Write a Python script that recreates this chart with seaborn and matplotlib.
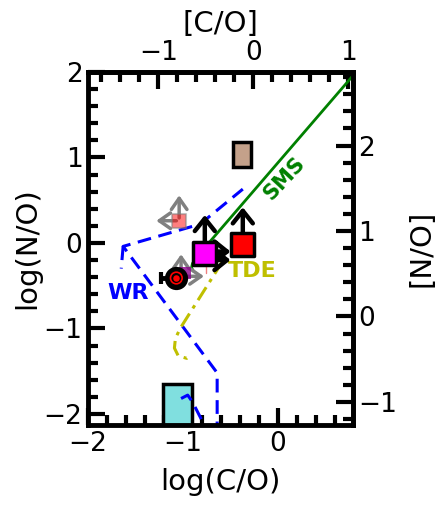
import matplotlib
matplotlib.use("Agg")
import matplotlib.pyplot as plt
from matplotlib.patches import Rectangle
from matplotlib.ticker import MultipleLocator
import pandas as pd
import seaborn as sns

# solar offsets used for the bracket axes
CO_SUN = -0.26
NO_SUN = -0.86

# model tracks: log(C/O), log(N/O)
sms_co = [-0.89, -0.91, -0.90, -0.86, 0.90]
sms_no = [-0.33, -0.29, -0.24, -0.17, 2.10]
wr_co = [-0.64, -0.64, -1.63, -0.82, -0.37]
wr_no = [-2.25, -1.52, -0.04, 0.22, 0.63]
wr_stub_co = [-1.63, -1.65]
wr_stub_no = [-0.04, -0.30]
wr2_co = [-1.02, -0.95, -0.90, -0.72]
wr2_no = [-1.82, -1.78, -1.86, -2.25]
tde_co = [-0.58, -1.03, -1.08, -1.09, -1.05, -0.96, -0.91]
tde_no = [-0.21, -1.00, -1.12, -1.23, -1.32, -1.35, -1.30]

# boxes: (x0, y0, width, height)
box_tan = (-0.47, 0.89, 0.19, 0.29)
box_cyan = (-1.21, -2.25, 0.31, 0.60)

# measurements
mag_co, mag_no = -0.77, -0.12
red_co, red_no = -0.37, -0.02
salmon_co, salmon_no = -1.04, 0.26
purple_co, purple_no = -1.02, -0.37
circ_co, circ_no = -1.07, -0.41
circ_xerr = 0.16

sns.set_style("white")
plt.rcParams['font.family'] = ['DejaVu Sans']
plt.rcParams.update({"text.color": "k", "axes.labelcolor": "k",
                     "xtick.color": "k", "ytick.color": "k"})

fig = plt.figure(figsize=(4.36, 5.13), dpi=100)
ax = fig.add_axes([0.2018, 0.1715, 0.6078, 0.6881])

kw = dict(sort=False, estimator=None, ax=ax)
sns.lineplot(x=sms_co, y=sms_no, color="green", lw=2, **kw)
sns.lineplot(x=wr_co, y=wr_no, color="blue", lw=2.2, **kw)
sns.lineplot(x=wr_stub_co, y=wr_stub_no, color="blue", lw=2.2, **kw)
sns.lineplot(x=wr2_co, y=wr2_no, color="blue", lw=2.2, **kw)
sns.lineplot(x=tde_co, y=tde_no, color="y", lw=2.2, **kw)
for ln in ax.lines[1:4]:
    ln.set_dashes([4.5, 2.5])
    ln.set_zorder(2)
ax.lines[4].set_dashes([5, 2, 1.2, 2])

ax.add_patch(Rectangle(box_tan[:2], box_tan[2], box_tan[3], fc="#c4a18a", ec="k", lw=2.5, zorder=3))
ax.add_patch(Rectangle(box_cyan[:2], box_cyan[2], box_cyan[3], fc="#80dfdf", ec="k", lw=2.5, zorder=1))

grey = dict(arrowstyle="->,head_length=0.5,head_width=0.35", color="grey", lw=2.5, mutation_scale=16)
black = dict(arrowstyle="->,head_length=0.5,head_width=0.4", color="k", lw=3.2, mutation_scale=18)

# salmon point with limits
ax.annotate("", xy=(salmon_co, salmon_no + 0.33), xytext=(salmon_co, salmon_no), arrowprops=grey, zorder=4)
ax.annotate("", xy=(salmon_co - 0.27, salmon_no), xytext=(salmon_co, salmon_no), arrowprops=grey, zorder=4)
sns.scatterplot(x=[salmon_co], y=[salmon_no], marker="s", s=100, color="red", alpha=0.5,
                edgecolor="grey", linewidth=1.5, ax=ax, zorder=5)

# purple point with limits
ax.annotate("", xy=(purple_co, purple_no + 0.27), xytext=(purple_co, purple_no), arrowprops=grey, zorder=4)
ax.annotate("", xy=(purple_co + 0.27, purple_no - 0.02), xytext=(purple_co, purple_no - 0.02), arrowprops=grey, zorder=4)
sns.scatterplot(x=[purple_co + 0.04], y=[purple_no + 0.02], marker="s", s=80, color="darkmagenta",
                alpha=0.8, linewidth=0, ax=ax, zorder=5)

# black circle with error bar
ax.errorbar([circ_co], [circ_no], xerr=[[circ_xerr], [0]], fmt="none", ecolor="k", elinewidth=3.5, capsize=4, capthick=3, zorder=6)
sns.scatterplot(x=[circ_co], y=[circ_no], marker="o", s=280, color="k", linewidth=0, ax=ax, zorder=7)
sns.scatterplot(x=[circ_co], y=[circ_no], marker="o", s=70, facecolor="none", edgecolor="red", linewidth=1.2, ax=ax, zorder=8)
sns.scatterplot(x=[circ_co], y=[circ_no], marker="o", s=22, color="red", linewidth=0, ax=ax, zorder=9)

# thin pink bar below magenta
ax.plot([mag_co + 0.01, mag_co + 0.01], [mag_no - 0.11, mag_no - 0.23], color="lightcoral", lw=1, zorder=2)

# magenta and red squares with lower limits
ax.annotate("", xy=(mag_co, mag_no + 0.48), xytext=(mag_co, mag_no), arrowprops=black, zorder=6)
ax.annotate("", xy=(mag_co + 0.30, mag_no + 0.02), xytext=(mag_co, mag_no + 0.02), arrowprops=black, zorder=6)
ax.annotate("", xy=(mag_co + 0.30, mag_no - 0.08), xytext=(mag_co, mag_no - 0.08), arrowprops=black, zorder=6)
ax.annotate("", xy=(red_co, red_no + 0.47), xytext=(red_co, red_no), arrowprops=black, zorder=6)
pts = pd.DataFrame({"co": [mag_co, red_co], "no": [mag_no, red_no], "kind": ["m", "r"]})
sns.scatterplot(data=pts, x="co", y="no", hue="kind", palette={"m": "magenta", "r": "red"},
                marker="s", s=270, edgecolor="k", linewidth=2.5, legend=False, ax=ax, zorder=7)

ax.text(0.07, 0.76, "SMS", color="green", fontsize=15, fontweight="bold", rotation=47, ha="center", va="center")
ax.text(-1.58, -0.58, "WR", color="blue", fontsize=16, fontweight="bold", ha="center", va="center")
ax.text(-0.27, -0.33, "TDE", color="y", fontsize=16, fontweight="bold", ha="center", va="center")

ax.set_xlim(-2.0, 0.79)
ax.set_ylim(-2.13, 2.0)
ax.set_xlabel("log(C/O)", fontsize=21, labelpad=8)
ax.set_ylabel("log(N/O)", fontsize=21, labelpad=2)
ax.xaxis.set_major_locator(MultipleLocator(1))
ax.yaxis.set_major_locator(MultipleLocator(1))
ax.xaxis.set_minor_locator(MultipleLocator(0.2))
ax.yaxis.set_minor_locator(MultipleLocator(0.2))
ax.tick_params(which="both", direction="in", width=3, labelsize=19, bottom=True, left=True, top=False, right=False, pad=4)
ax.tick_params(which="major", length=12)
ax.tick_params(which="minor", length=7)
for sp in ax.spines.values():
    sp.set_linewidth(3.5)
    sp.set_color("k")
    sp.set_zorder(10)

top = ax.secondary_xaxis("top", functions=(lambda x: x - CO_SUN, lambda x: x + CO_SUN))
right = ax.secondary_yaxis("right", functions=(lambda y: y - NO_SUN, lambda y: y + NO_SUN))
top.set_xlabel("[C/O]", fontsize=21, labelpad=6)
right.set_ylabel("[N/O]", fontsize=21, labelpad=7)
for sec, axis in ((top, top.xaxis), (right, right.yaxis)):
    axis.set_major_locator(MultipleLocator(1))
    axis.set_minor_locator(MultipleLocator(0.2))
    sec.tick_params(which="both", direction="in", width=3, labelsize=19, pad=4)
    sec.tick_params(which="major", length=12)
    sec.tick_params(which="minor", length=7)
    for sp in sec.spines.values():
        sp.set_linewidth(3.5)

fig.savefig("out.png", dpi=100)
